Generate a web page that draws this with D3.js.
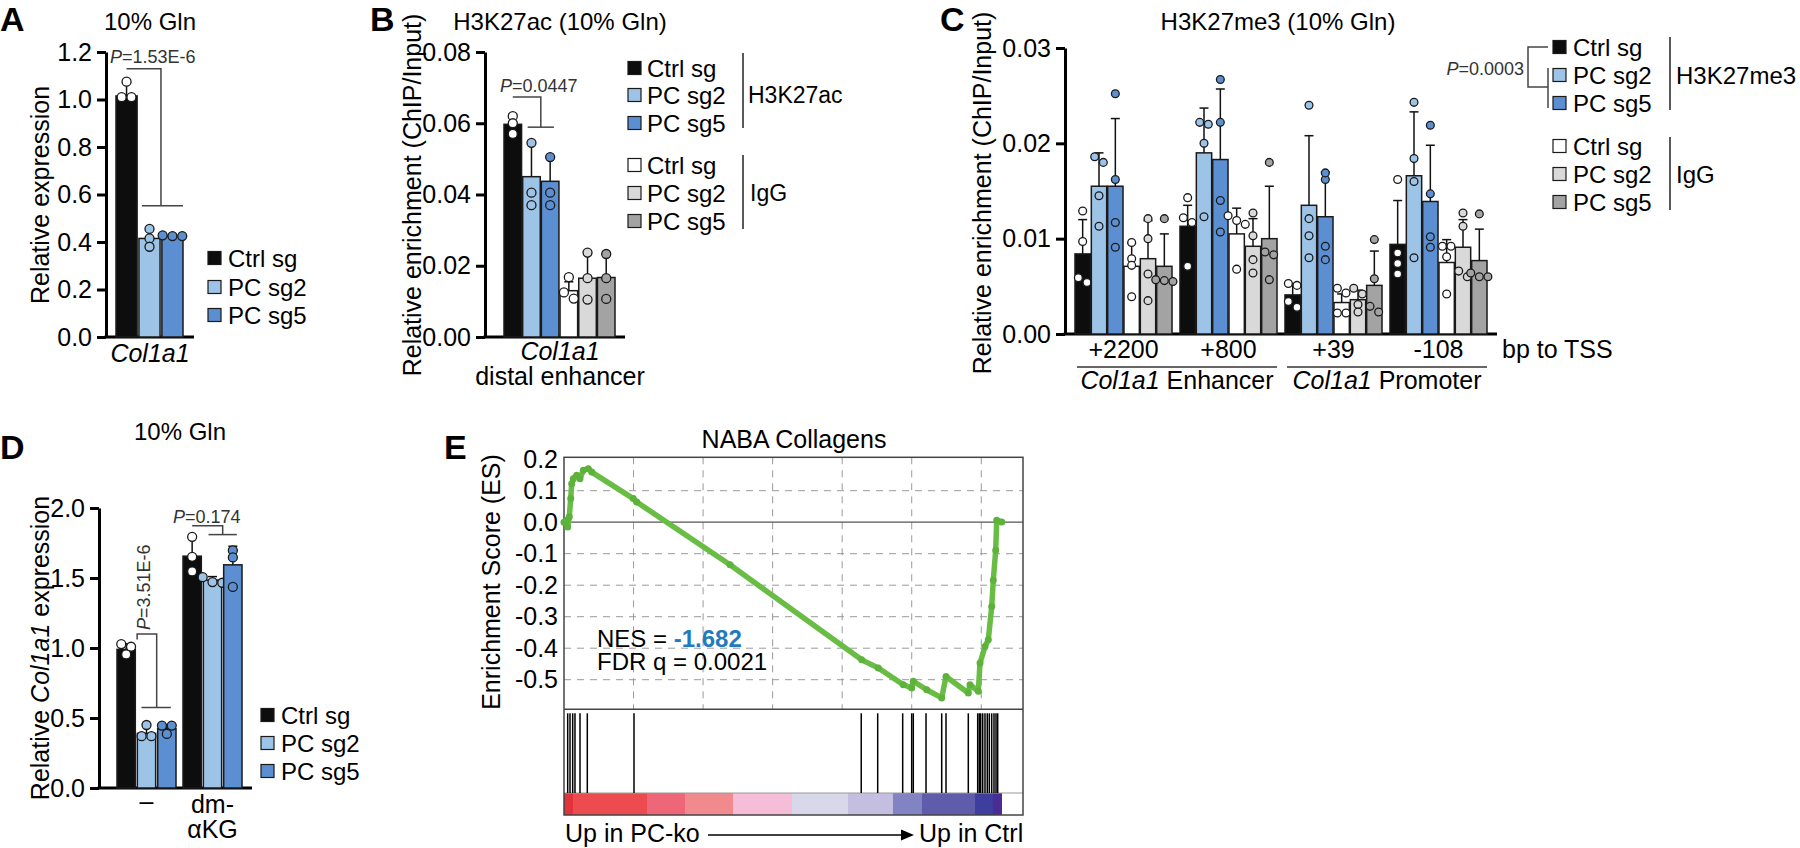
<!DOCTYPE html>
<html>
<head>
<meta charset="utf-8">
<script src="https://cdn.jsdelivr.net/npm/d3@7"></script>
<style>
  body { margin: 0; background: #fff; }
  svg { display: block; }
</style>
</head>
<body>
<script>
const FONT = "Arial, 'Liberation Sans', Helvetica, sans-serif";

// ---------------- data ----------------
const seriesNames = ["Ctrl sg", "PC sg2", "PC sg5"];
const seriesFill = ["#0d0d0d", "#9dc3e6", "#5b8fd1"];
const iggFill = ["#ffffff", "#d9d9d9", "#a3a3a3"];

// A: Col1a1 relative expression
const aMeans = [1.015, 0.415, 0.425];
const aErrTop = [1.07, 0.455, 0.432];
const aPoints = [[1.075, 1.01, 1.01], [0.455, 0.415, 0.38], [0.425, 0.428, 0.425]];
const aTicks = [0, 0.2, 0.4, 0.6, 0.8, 1.0, 1.2];

// B: H3K27ac ChIP (3 H3K27ac + 3 IgG)
const bMeans = [0.0597, 0.045, 0.0437, 0.013, 0.0165, 0.0167];
const bErrTop = [0.0625, 0.0545, 0.0505, 0.0155, 0.0235, 0.0233];
const bPoints = [[0.062, 0.060, 0.057], [0.0545, 0.0405, 0.037], [0.0505, 0.0405, 0.037],
                 [0.0168, 0.0125, 0.0108], [0.0237, 0.0165, 0.0105], [0.0233, 0.0165, 0.0107]];
const bTicks = [0, 0.02, 0.04, 0.06, 0.08];

// C: H3K27me3 ChIP at 4 sites, 6 series each
const cSites = ["+2200", "+800", "+39", "-108"];
const cMeans = [
  [0.0084, 0.0155, 0.0155, 0.0071, 0.0079, 0.0071],
  [0.0113, 0.0190, 0.0183, 0.0105, 0.0092, 0.0100],
  [0.0041, 0.0135, 0.0123, 0.0033, 0.0036, 0.0051],
  [0.0094, 0.0166, 0.0139, 0.0075, 0.0091, 0.0077]
];
const cErrTop = [
  [0.0120, 0.0190, 0.0226, 0.0095, 0.0119, 0.0105],
  [0.0135, 0.0237, 0.0257, 0.0132, 0.0121, 0.0155],
  [0.0053, 0.0208, 0.0170, 0.0042, 0.0046, 0.0087],
  [0.0140, 0.0233, 0.0198, 0.0099, 0.0120, 0.0110]
];
const cPoints = [
  [[0.0129, 0.0097, 0.0054, 0.0059], [0.018, 0.0186, 0.0145, 0.0113], [0.0252, 0.0162, 0.0117, 0.0091],
   [0.0096, 0.0079, 0.0072, 0.0039], [0.0121, 0.0100, 0.0063, 0.0035], [0.0121, 0.0057, 0.0055, 0.0056]],
  [[0.0143, 0.0122, 0.0117, 0.0071], [0.0220, 0.0222, 0.0200, 0.0123], [0.0267, 0.0222, 0.0140, 0.0107],
   [0.0119, 0.0124, 0.0115, 0.0068], [0.0127, 0.0103, 0.0078, 0.0064], [0.0180, 0.0086, 0.0083, 0.0057]],
  [[0.0051, 0.0053, 0.0034, 0.0028], [0.0240, 0.0121, 0.0103, 0.0080], [0.0162, 0.0169, 0.0092, 0.0078],
   [0.0043, 0.0048, 0.0022, 0.0022], [0.0042, 0.0048, 0.0031, 0.0023], [0.0099, 0.0058, 0.0023, 0.0029]],
  [[0.0162, 0.0085, 0.0074, 0.0063], [0.0243, 0.0184, 0.0160, 0.0080], [0.0219, 0.0147, 0.0102, 0.0091],
   [0.0092, 0.0092, 0.0081, 0.0042], [0.0127, 0.0113, 0.0060, 0.0066], [0.0126, 0.0060, 0.0064, 0.0060]]
];
const cTicks = [0, 0.01, 0.02, 0.03];

// D: Col1a1 expression +/- dm-aKG
const dGroups = ["\u2013", "dm-\u03b1KG"];
const dMeans = [[0.99, 0.39, 0.423], [1.656, 1.485, 1.594]];
const dErrTop = [[1.03, 0.45, 0.45], [1.79, 1.51, 1.727]];
const dPoints = [
  [[1.028, 1.009, 0.954], [0.45, 0.37, 0.37], [0.446, 0.446, 0.386]],
  [[1.794, 1.651, 1.547], [1.506, 1.471, 1.466], [1.697, 1.647, 1.436]]
];
const dTicks = [0, 0.5, 1.0, 1.5, 2.0];

// E: GSEA NABA Collagens
const eRankMax = 13200;
const eCurveRank = [0, 78, 106, 152, 193, 221, 267, 365, 460, 555, 699, 797, 1993, 2091, 4774, 8561, 9039,
  9758, 9999, 10045, 10431, 10862, 10986, 11627, 11676, 11915, 11964, 12107, 12202, 12300, 12346, 12415, 12444, 12588];
const eCurveES = [0, 0.006, -0.015, 0.017, 0.075, 0.122, 0.138, 0.149, 0.138, 0.165, 0.17, 0.159, 0.075, 0.064, -0.135,
  -0.437, -0.463, -0.516, -0.526, -0.505, -0.532, -0.558, -0.49, -0.542, -0.516, -0.537, -0.447, -0.395, -0.373,
  -0.268, -0.184, -0.089, 0.006, 0.001];
const eHits = [106, 173, 250, 316, 460, 670, 2013, 8548, 9021, 9740, 9999, 10045, 10411, 10862, 10986, 11627,
  11897, 11943, 11983, 12041, 12107, 12173, 12231, 12300, 12366, 12424, 12472];
const eBarEdges = [0, 259, 2387, 3480, 4860, 6557, 8167, 9461, 10295, 11820, 12337, 12596];
const eBarColors = ["#e2333b", "#ec4b50", "#ee6778", "#f18a8d", "#f5bdd7", "#d9d8eb", "#c4bfe0",
  "#8183c3", "#5f5cab", "#3e3e9f", "#4a2c94"];
const eTicks = [0.2, 0.1, 0.0, -0.1, -0.2, -0.3, -0.4, -0.5];
const eGridRanks = [2000, 4000, 6000, 8000, 10000, 12000];

// ---------------- helpers ----------------
const svg = d3.select("body").append("svg")
  .attr("width", 1800).attr("height", 848)
  .style("font-family", FONT);

function txt(x, y, s, size, opts = {}) {
  const t = svg.append("text").attr("x", x).attr("y", y)
    .attr("font-size", size).attr("fill", opts.fill || "#000")
    .attr("text-anchor", opts.anchor || "start");
  if (opts.weight) t.attr("font-weight", opts.weight);
  if (opts.italic) t.attr("font-style", "italic");
  if (s !== null) t.text(s);
  return t;
}

function panelLetter(x, y, s) {
  txt(x, y, s, 34, { weight: "bold" });
}

function styleAxis(g, size) {
  g.selectAll("path.domain").attr("stroke", "#000").attr("stroke-width", 3);
  g.selectAll(".tick line").attr("stroke", "#000").attr("stroke-width", 3);
  g.selectAll(".tick text").attr("font-size", size).attr("font-family", FONT).attr("fill", "#000");
}

function yAxis(x, y, ticks, fmt) {
  const g = svg.append("g").attr("transform", `translate(${x},0)`)
    .call(d3.axisLeft(y).tickValues(ticks).tickFormat(d3.format(fmt))
      .tickSize(9).tickSizeOuter(0).tickPadding(5));
  styleAxis(g, 25);
}

function xAxisLine(x0, x1, y) {
  svg.append("line").attr("x1", x0 - 1.5).attr("x2", x1).attr("y1", y).attr("y2", y)
    .attr("stroke", "#000").attr("stroke-width", 3);
}

function yTitle(x, y, parts) {
  const t = svg.append("text").attr("transform", `translate(${x},${y}) rotate(-90)`)
    .attr("text-anchor", "middle").attr("font-size", 25);
  parts.forEach(p => t.append("tspan").attr("font-style", p.italic ? "italic" : null).text(p.s));
}

// horizontal spread of dots that would overlap too much (simple beeswarm)
function swarm(ys, r) {
  const idx = ys.map((v, i) => i).sort((a, b) => ys[a] - ys[b]);
  const off = new Array(ys.length).fill(0);
  let cluster = [idx[0]];
  const flush = () => {
    const n = cluster.length;
    cluster.forEach((k, j) => off[k] = (j - (n - 1) / 2) * (2 * r + 0.8));
  };
  for (let i = 1; i < idx.length; i++) {
    if (ys[idx[i]] - ys[idx[i - 1]] < 2 * r - 2) cluster.push(idx[i]);
    else { flush(); cluster = [idx[i]]; }
  }
  flush();
  return off;
}

function drawBar(x, w, y, mean, errTop, pts, fill, dotFill, r) {
  const g = svg.append("g");
  g.append("rect").attr("x", x).attr("y", y(mean)).attr("width", w).attr("height", y(0) - y(mean))
    .attr("fill", fill).attr("stroke", "#1a1a1a").attr("stroke-width", 1.5);
  const cx = x + w / 2;
  g.append("line").attr("x1", cx).attr("x2", cx).attr("y1", y(mean)).attr("y2", y(errTop))
    .attr("stroke", "#111").attr("stroke-width", 1.5);
  g.append("line").attr("x1", cx - 4.5).attr("x2", cx + 4.5).attr("y1", y(errTop)).attr("y2", y(errTop))
    .attr("stroke", "#111").attr("stroke-width", 1.5);
  const ys = pts.map(y);
  const off = swarm(ys, r);
  g.selectAll("circle").data(pts).enter().append("circle")
    .attr("cx", (d, i) => cx + off[i]).attr("cy", d => y(d)).attr("r", r)
    .attr("fill", dotFill).attr("stroke", "#1a1a1a").attr("stroke-width", 1.3);
}

function legend(x, textX, rows, labels, fills, size) {
  rows.forEach((cy, i) => {
    svg.append("rect").attr("x", x).attr("y", cy - 6.5).attr("width", 13).attr("height", 13)
      .attr("fill", fills[i]).attr("stroke", "#1a1a1a").attr("stroke-width", 1.2);
    txt(textX, cy + 8.5, labels[i], size);
  });
}

function pText(x, y, value, opts = {}) {
  const t = txt(x, y, null, 18, { fill: "#333", anchor: opts.anchor });
  if (opts.rotate) t.attr("x", null).attr("y", null).attr("transform", `translate(${x},${y}) rotate(-90)`);
  t.append("tspan").attr("font-style", "italic").text("P");
  t.append("tspan").text("=" + value);
}

function path(d) {
  svg.append("path").attr("d", d).attr("fill", "none").attr("stroke", "#444").attr("stroke-width", 1.5);
}

// ---------------- Panel A ----------------
{
  const y = d3.scaleLinear().domain([0, 1.2]).range([337, 52]);
  const x = d3.scaleBand().domain(seriesNames).range([116, 183]).paddingInner(0.08);
  panelLetter(0, 31, "A");
  txt(150, 30, "10% Gln", 24, { anchor: "middle" });
  yAxis(106, y, aTicks, ".1f");
  xAxisLine(106, 194, 337);
  seriesNames.forEach((s, i) => drawBar(x(s), x.bandwidth(), y, aMeans[i], aErrTop[i], aPoints[i],
    seriesFill[i], i === 0 ? "#fff" : seriesFill[i], 4.5));
  txt(150, 362, "Col1a1", 25, { anchor: "middle", italic: true });
  yTitle(49, 195, [{ s: "Relative expression" }]);
  legend(208, 228, [258, 287, 315], seriesNames, seriesFill, 24);
  const c0 = x("Ctrl sg") + x.bandwidth() / 2;
  const cm = (x("PC sg2") + x("PC sg5") + x.bandwidth()) / 2;
  pText(110, 63, "1.53E-6");
  path(`M${c0},${y(1.13)}H${cm}V${y(0.553)}`);
  path(`M${x("PC sg2") + 3},${y(0.553)}H${x("PC sg5") + x.bandwidth()}`);
}

// ---------------- Panel B ----------------
{
  const y = d3.scaleLinear().domain([0, 0.08]).range([337, 52]);
  const keys = d3.range(6);
  const x = d3.scaleBand().domain(keys).range([504, 615]).paddingInner(0.06);
  const fills = seriesFill.concat(iggFill);
  panelLetter(370, 31, "B");
  txt(560, 30, "H3K27ac (10% Gln)", 24, { anchor: "middle" });
  yAxis(485, y, bTicks, ".2f");
  xAxisLine(485, 625, 337);
  keys.forEach(i => drawBar(x(i), x.bandwidth(), y, bMeans[i], bErrTop[i], bPoints[i],
    fills[i], i === 0 ? "#fff" : fills[i], 4.5));
  txt(560, 360, "Col1a1", 25, { anchor: "middle", italic: true });
  txt(560, 385, "distal enhancer", 25, { anchor: "middle" });
  yTitle(421, 195, [{ s: "Relative enrichment (ChIP/Input)" }]);
  legend(628, 647, [68, 95, 123, 165, 193, 221], seriesNames.concat(seriesNames), fills, 24);
  svg.append("line").attr("x1", 743).attr("x2", 743).attr("y1", 53).attr("y2", 128).attr("stroke", "#222").attr("stroke-width", 1.5);
  svg.append("line").attr("x1", 743).attr("x2", 743).attr("y1", 155).attr("y2", 229).attr("stroke", "#222").attr("stroke-width", 1.5);
  txt(748, 103, "H3K27ac", 23);
  txt(750, 201, "IgG", 23);
  const c0 = x(0) + x.bandwidth() / 2;
  const cm = (x(1) + x(2) + x.bandwidth()) / 2;
  pText(500, 92, "0.0447");
  path(`M${c0},${y(0.0674)}H${cm}V${y(0.0589)}`);
  path(`M${x(1) + 5},${y(0.0589)}H${x(2) + x.bandwidth() - 5}`);
}

// ---------------- Panel C ----------------
{
  const y = d3.scaleLinear().domain([0, 0.03]).range([334, 48]);
  const xg = d3.scaleBand().domain(cSites).range([1071, 1491]).paddingInner(0.076).paddingOuter(0.038);
  const xs = d3.scaleBand().domain(d3.range(6)).range([0, xg.bandwidth()]).paddingInner(0.06);
  const fills = seriesFill.concat(iggFill);
  panelLetter(940, 31, "C");
  txt(1278, 30, "H3K27me3 (10% Gln)", 24, { anchor: "middle" });
  yAxis(1065, y, cTicks, ".2f");
  xAxisLine(1065, 1497, 334);
  cSites.forEach((site, gi) => {
    d3.range(6).forEach(i => drawBar(xg(site) + xs(i), xs.bandwidth(), y, cMeans[gi][i], cErrTop[gi][i],
      cPoints[gi][i], fills[i], i === 0 ? "#fff" : fills[i], 3.9));
    txt(xg(site) + xg.bandwidth() / 2, 358, site, 25, { anchor: "middle" });
  });
  txt(1502, 358, "bp to TSS", 25);
  [[0, 1, "Enhancer"], [2, 3, "Promoter"]].forEach(([a, b, lab]) => {
    const x0 = xg(cSites[a]) + 2, x1 = xg(cSites[b]) + xg.bandwidth();
    svg.append("line").attr("x1", x0).attr("x2", x1).attr("y1", 367).attr("y2", 367)
      .attr("stroke", "#333").attr("stroke-width", 1.5);
    const t = txt((x0 + x1) / 2, 389, null, 25, { anchor: "middle" });
    t.append("tspan").attr("font-style", "italic").text("Col1a1");
    t.append("tspan").text(" " + lab);
  });
  yTitle(991, 193, [{ s: "Relative enrichment (ChIP/Input)" }]);
  legend(1553, 1573, [47, 75, 103, 146, 174, 202], seriesNames.concat(seriesNames), fills, 24);
  svg.append("line").attr("x1", 1670).attr("x2", 1670).attr("y1", 37).attr("y2", 110).attr("stroke", "#222").attr("stroke-width", 1.5);
  svg.append("line").attr("x1", 1670).attr("x2", 1670).attr("y1", 137).attr("y2", 210).attr("stroke", "#222").attr("stroke-width", 1.5);
  txt(1676, 83.5, "H3K27me3", 24);
  txt(1676, 182.5, "IgG", 24);
  pText(1524, 75, "0.0003", { anchor: "end" });
  path("M1548,47H1528V87H1548");
  path("M1548,68V108");
}

// ---------------- Panel D ----------------
{
  const y = d3.scaleLinear().domain([0, 2.0]).range([788, 508]);
  const xg = d3.scaleBand().domain(dGroups).range([113.5, 245.5]).paddingInner(0.106).paddingOuter(0.053);
  const xs = d3.scaleBand().domain(seriesNames).range([0, xg.bandwidth()]).paddingInner(0.1);
  panelLetter(0, 459, "D");
  txt(180, 440, "10% Gln", 24, { anchor: "middle" });
  yAxis(99, y, dTicks, ".1f");
  xAxisLine(99, 252, 788);
  dGroups.forEach((grp, gi) => {
    seriesNames.forEach((s, i) => drawBar(xg(grp) + xs(s), xs.bandwidth(), y, dMeans[gi][i], dErrTop[gi][i],
      dPoints[gi][i], seriesFill[i], i === 0 ? "#fff" : seriesFill[i], 4.5));
  });
  const gc = g => xg(g) + xg.bandwidth() / 2;
  txt(gc(dGroups[0]), 810, "\u2013", 25, { anchor: "middle" });
  txt(gc(dGroups[1]), 813, "dm-", 25, { anchor: "middle" });
  txt(gc(dGroups[1]), 838, "\u03b1KG", 25, { anchor: "middle" });
  yTitle(49, 648, [{ s: "Relative " }, { s: "Col1a1", italic: true }, { s: " expression" }]);
  legend(261, 281, [715, 743, 771], seriesNames, seriesFill, 24);
  // P brackets
  const g0 = dGroups[0], g1 = dGroups[1];
  const cen = (g, s) => xg(g) + xs(s) + xs.bandwidth() / 2;
  pText(150, y(1.10) - 4, "3.51E-6", { rotate: true });
  path(`M${cen(g0, "Ctrl sg") + 11},${y(1.06)}V${y(1.10)}H${(cen(g0, "PC sg2") + cen(g0, "PC sg5")) / 2}V${y(0.575)}`);
  path(`M${cen(g0, "PC sg2") - 5},${y(0.575)}H${cen(g0, "PC sg5") + 4}`);
  pText(173, y(1.89), "0.174");
  path(`M${cen(g1, "Ctrl sg")},${y(1.873)}H${(cen(g1, "PC sg2") + cen(g1, "PC sg5")) / 2}V${y(1.81)}`);
  path(`M${cen(g1, "PC sg2") - 4},${y(1.81)}H${cen(g1, "PC sg5") + 4}`);
}

// ---------------- Panel E ----------------
{
  const x = d3.scaleLinear().domain([0, eRankMax]).range([564, 1023]);
  const y = d3.scaleLinear().domain([-0.594, 0.206]).range([709.3, 457.3]);
  const top = 457.3, esBottom = 709.3, barTop = 793, barBottom = 815;
  panelLetter(444, 459, "E");
  txt(794, 448, "NABA Collagens", 25, { anchor: "middle" });

  // grid
  svg.append("g").selectAll("line").data(eGridRanks).enter().append("line")
    .attr("x1", d => x(d)).attr("x2", d => x(d)).attr("y1", top).attr("y2", esBottom)
    .attr("stroke", "#9a9a9a").attr("stroke-width", 1).attr("stroke-dasharray", "7,6");
  svg.append("g").selectAll("line").data(eTicks.filter(d => d !== 0 && d < 0.2)).enter().append("line")
    .attr("x1", x(0)).attr("x2", x(eRankMax)).attr("y1", d => y(d)).attr("y2", d => y(d))
    .attr("stroke", "#9a9a9a").attr("stroke-width", 1).attr("stroke-dasharray", "7,6");
  svg.append("line").attr("x1", x(0)).attr("x2", x(eRankMax)).attr("y1", y(0)).attr("y2", y(0))
    .attr("stroke", "#555").attr("stroke-width", 1.3);

  // colour bar
  svg.append("g").selectAll("rect").data(eBarColors).enter().append("rect")
    .attr("x", (d, i) => x(eBarEdges[i])).attr("width", (d, i) => x(eBarEdges[i + 1]) - x(eBarEdges[i]))
    .attr("y", barTop).attr("height", barBottom - barTop).attr("fill", d => d);
  svg.append("line").attr("x1", x(0)).attr("x2", x(eRankMax)).attr("y1", barTop).attr("y2", barTop)
    .attr("stroke", "#999").attr("stroke-width", 1);

  // hits
  svg.append("g").selectAll("line").data(eHits).enter().append("line")
    .attr("x1", d => x(d)).attr("x2", d => x(d)).attr("y1", esBottom + 4).attr("y2", barTop)
    .attr("stroke", "#000").attr("stroke-width", 1.5);

  // frame
  svg.append("rect").attr("x", x(0)).attr("y", top).attr("width", x(eRankMax) - x(0)).attr("height", barBottom - top)
    .attr("fill", "none").attr("stroke", "#444").attr("stroke-width", 1.5);
  svg.append("line").attr("x1", x(0)).attr("x2", x(eRankMax)).attr("y1", esBottom).attr("y2", esBottom)
    .attr("stroke", "#444").attr("stroke-width", 1.5);

  // running ES
  const pts = eCurveRank.map((r, i) => [r, eCurveES[i]]);
  const line = d3.line().x(d => x(d[0])).y(d => y(d[1]));
  svg.append("path").datum(pts).attr("d", line).attr("fill", "none")
    .attr("stroke", "#69bd45").attr("stroke-width", 5.5).attr("stroke-linejoin", "round").attr("stroke-linecap", "round");
  svg.append("g").selectAll("circle").data(pts).enter().append("circle")
    .attr("cx", d => x(d[0])).attr("cy", d => y(d[1])).attr("r", 3.5).attr("fill", "#5db23b");

  // y axis labels
  const ga = svg.append("g").attr("transform", `translate(${x(0)},0)`)
    .call(d3.axisLeft(y).tickValues(eTicks).tickFormat(d => d.toFixed(1)).tickSize(0).tickPadding(6));
  ga.select("path.domain").remove();
  ga.selectAll(".tick text").attr("font-size", 25).attr("font-family", FONT).attr("fill", "#000");
  yTitle(500, 582, [{ s: "Enrichment Score (ES)" }]);

  // stats
  const t1 = txt(597, 647, null, 24);
  t1.append("tspan").text("NES = ");
  t1.append("tspan").attr("font-weight", "bold").attr("fill", "#1f7bc1").text("-1.682");
  txt(597, 670, "FDR q = 0.0021", 24);

  // bottom arrow
  txt(565, 842, "Up in PC-ko", 25);
  svg.append("line").attr("x1", 708).attr("x2", 905).attr("y1", 835).attr("y2", 835)
    .attr("stroke", "#000").attr("stroke-width", 1.5);
  svg.append("path").attr("d", "M914,835L901,829.5L901,840.5Z").attr("fill", "#000");
  txt(919, 842, "Up in Ctrl", 25);
}
</script>
</body>
</html>
